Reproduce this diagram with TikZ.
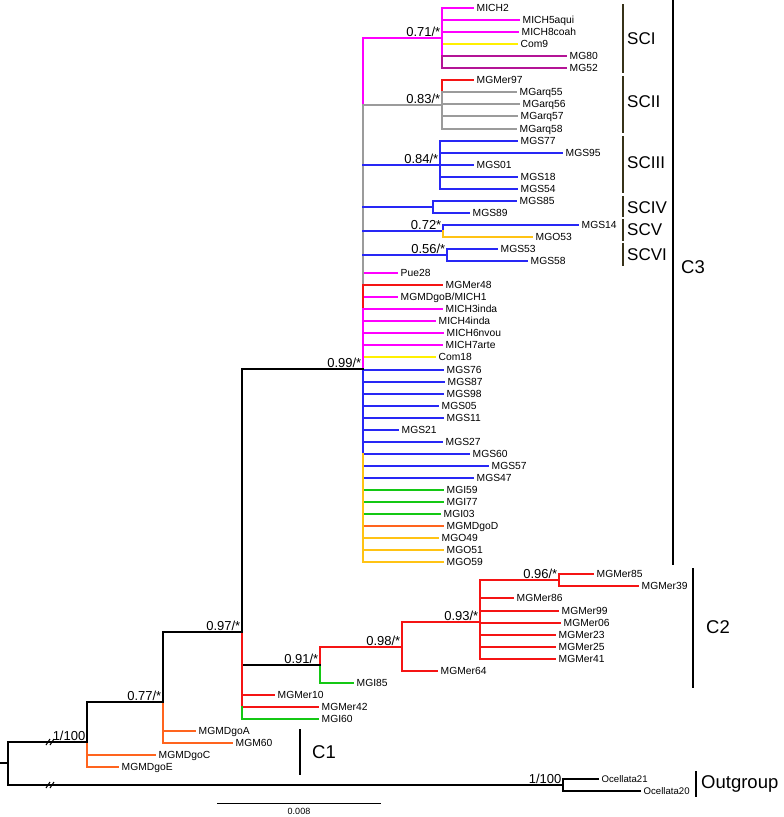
\documentclass[tikz,border=0pt]{standalone}
\usepackage{fontspec}
\setmainfont{Liberation Sans}
\usepackage{tikz}

\definecolor{tmag}{RGB}{255,0,255}
\definecolor{tpur}{RGB}{180,20,150}
\definecolor{tyel}{RGB}{255,240,0}
\definecolor{tgray}{RGB}{155,155,155}
\definecolor{tblue}{RGB}{40,40,245}
\definecolor{tred}{RGB}{245,20,20}
\definecolor{tgreen}{RGB}{20,200,20}
\definecolor{torange}{RGB}{255,100,30}
\definecolor{tgold}{RGB}{255,195,20}
\definecolor{tbar}{RGB}{55,50,25}

\tikzset{
  branch/.style={line width=2pt, line cap=rect},
  tiplab/.style={anchor=west, inner xsep=3.5pt, inner ysep=0pt, text height=7.5pt, text depth=0.5pt, font=\fontsize{10.3}{12}\selectfont},
  supp/.style={anchor=south east, inner sep=1.5pt, text depth=0pt, font=\fontsize{13}{15}\selectfont},
  cladebar/.style={line width=1.5pt},
  cladelab/.style={anchor=west, inner sep=0pt, font=\fontsize{17}{20}\selectfont},
}

% tip: name, row, x of tip, colour, parent, label
\newcommand\tip[6]{%
  \node[tiplab] (#1) at (#3,{round(8+12.05*(#2-1))}) {#6};
  \draw[branch,#4] (#5 |- #1.west) -- (#1.west);}

% axis break mark
\newcommand\brk[1]{%
  \draw[line width=1pt, shift={(#1)}] (-5,3) -- (-1,-3) (-1,3) -- (3,-3);}

\begin{document}
\begin{tikzpicture}[x=1pt,y=-1pt]
\useasboundingbox (0,0) rectangle (784,817);

% internal nodes
\coordinate (rootend) at (0,763);
\coordinate (root) at (8,763);
\coordinate (ing) at (87,742);
\coordinate (n77) at (163,702);
\coordinate (n97) at (242,632);
\coordinate (nC3) at (363,369);
\coordinate (nSCI) at (442,38);
\coordinate (nSCII) at (442,105);
\coordinate (nSCIII) at (440,165);
\coordinate (nSCIV) at (433,207);
\coordinate (nSCV) at (443,231);
\coordinate (nSCVI) at (447,255);
\coordinate (n91) at (320,665);
\coordinate (n98) at (402,647);
\coordinate (n93) at (480,622);
\coordinate (n96) at (559,580);
\coordinate (nOut) at (563,785);

% SCI
\tip{MICH2}{1}{473}{tmag}{nSCI}{MICH2}
\tip{MICH5aqui}{2}{519}{tmag}{nSCI}{MICH5aqui}
\tip{MICH8coah}{3}{518}{tmag}{nSCI}{MICH8coah}
\tip{Com9}{4}{517}{tyel}{nSCI}{Com9}
\tip{MG80}{5}{566}{tpur}{nSCI}{MG80}
\tip{MG52}{6}{566}{tpur}{nSCI}{MG52}
% SCII
\tip{MGMer97}{7}{473}{tred}{nSCII}{MGMer97}
\tip{MGarq55}{8}{516}{tgray}{nSCII}{MGarq55}
\tip{MGarq56}{9}{519}{tgray}{nSCII}{MGarq56}
\tip{MGarq57}{10}{517}{tgray}{nSCII}{MGarq57}
\tip{MGarq58}{11}{516}{tgray}{nSCII}{MGarq58}
% SCIII
\tip{MGS77}{12}{517}{tblue}{nSCIII}{MGS77}
\tip{MGS95}{13}{562}{tblue}{nSCIII}{MGS95}
\tip{MGS01}{14}{473}{tblue}{nSCIII}{MGS01}
\tip{MGS18}{15}{517}{tblue}{nSCIII}{MGS18}
\tip{MGS54}{16}{517}{tblue}{nSCIII}{MGS54}
% SCIV - SCVI
\tip{MGS85}{17}{516}{tblue}{nSCIV}{MGS85}
\tip{MGS89}{18}{469}{tblue}{nSCIV}{MGS89}
\tip{MGS14}{19}{578}{tblue}{nSCV}{MGS14}
\tip{MGO53}{20}{532}{tgold}{nSCV}{MGO53}
\tip{MGS53}{21}{497}{tblue}{nSCVI}{MGS53}
\tip{MGS58}{22}{527}{tblue}{nSCVI}{MGS58}
% rest of C3
\tip{Pue28}{23}{397}{tmag}{nC3}{Pue28}
\tip{MGMer48}{24}{442}{tred}{nC3}{MGMer48}
\tip{MGMDgoB}{25}{397}{tmag}{nC3}{MGMDgoB/MICH1}
\tip{MICH3inda}{26}{442}{tmag}{nC3}{MICH3inda}
\tip{MICH4inda}{27}{435}{tmag}{nC3}{MICH4inda}
\tip{MICH6nvou}{28}{443}{tmag}{nC3}{MICH6nvou}
\tip{MICH7arte}{29}{442}{tmag}{nC3}{MICH7arte}
\tip{Com18}{30}{435}{tyel}{nC3}{Com18}
\tip{MGS76}{31}{443}{tblue}{nC3}{MGS76}
\tip{MGS87}{32}{444}{tblue}{nC3}{MGS87}
\tip{MGS98}{33}{443}{tblue}{nC3}{MGS98}
\tip{MGS05}{34}{438}{tblue}{nC3}{MGS05}
\tip{MGS11}{35}{443}{tblue}{nC3}{MGS11}
\tip{MGS21}{36}{398}{tblue}{nC3}{MGS21}
\tip{MGS27}{37}{442}{tblue}{nC3}{MGS27}
\tip{MGS60}{38}{469}{tblue}{nC3}{MGS60}
\tip{MGS57}{39}{488}{tblue}{nC3}{MGS57}
\tip{MGS47}{40}{473}{tblue}{nC3}{MGS47}
\tip{MGI59}{41}{443}{tgreen}{nC3}{MGI59}
\tip{MGI77}{42}{443}{tgreen}{nC3}{MGI77}
\tip{MGI03}{43}{440}{tgreen}{nC3}{MGI03}
\tip{MGMDgoD}{44}{443}{torange}{nC3}{MGMDgoD}
\tip{MGO49}{45}{438}{tgold}{nC3}{MGO49}
\tip{MGO51}{46}{443}{tgold}{nC3}{MGO51}
\tip{MGO59}{47}{443}{tgold}{nC3}{MGO59}
% C2
\tip{MGMer85}{48}{593}{tred}{n96}{MGMer85}
\tip{MGMer39}{49}{638}{tred}{n96}{MGMer39}
\tip{MGMer86}{50}{513}{tred}{n93}{MGMer86}
\tip{MGMer99}{51}{558}{tred}{n93}{MGMer99}
\tip{MGMer06}{52}{560}{tred}{n93}{MGMer06}
\tip{MGMer23}{53}{555}{tred}{n93}{MGMer23}
\tip{MGMer25}{54}{555}{tred}{n93}{MGMer25}
\tip{MGMer41}{55}{555}{tred}{n93}{MGMer41}
\tip{MGMer64}{56}{437}{tred}{n98}{MGMer64}
\tip{MGI85}{57}{353}{tgreen}{n91}{MGI85}
\tip{MGMer10}{58}{274}{tred}{n97}{MGMer10}
\tip{MGMer42}{59}{318}{tred}{n97}{MGMer42}
\tip{MGI60}{60}{318}{tgreen}{n97}{MGI60}
% C1
\tip{MGMDgoA}{61}{195}{torange}{n77}{MGMDgoA}
\tip{MGM60}{62}{232}{torange}{n77}{MGM60}
\tip{MGMDgoC}{63}{155}{torange}{ing}{MGMDgoC}
\tip{MGMDgoE}{64}{118}{torange}{ing}{MGMDgoE}
% outgroup
\tikzset{tiplab/.append style={font=\fontsize{9.6}{11}\selectfont}}
\tip{Ocellata21}{65}{598}{black}{nOut}{Ocellata21}
\tip{Ocellata20}{66}{640}{black}{nOut}{Ocellata20}

% C3 polytomy
\draw[branch,tmag] (nC3 |- nSCI) -- (nC3 |- nSCII);
\draw[branch,tgray] (nC3 |- nSCII) -- (nC3 |- MGMer48.west);
\draw[branch,tred] (nC3 |- MGMer48.west) -- (nC3 |- MICH3inda.west);
\draw[branch,tmag] (nC3 |- MICH3inda.west) -- (nC3);
\draw[branch,tblue] (nC3) -- (nC3 |- MGS60.west);
\draw[branch,tgold] (nC3 |- MGS60.west) -- (nC3 |- MGO59.west);
\draw[branch,tmag] (nC3 |- nSCI) -- (nSCI);
\draw[branch,tgray] (nC3 |- nSCII) -- (nSCII);
\draw[branch,tblue] (nC3 |- nSCIII) -- (nSCIII);
\draw[branch,tblue] (nC3 |- nSCIV) -- (nSCIV);
\draw[branch,tblue] (nC3 |- nSCV) -- (nSCV);
\draw[branch,tblue] (nC3 |- nSCVI) -- (nSCVI);

% subclades
\draw[branch,tmag] (nSCI |- MICH2.west) -- (nSCI |- MG80.west);
\draw[branch,tpur] (nSCI |- MG80.west) -- (nSCI |- MG52.west);
\draw[branch,tred] (nSCII |- MGMer97.west) -- (nSCII |- MGarq55.west);
\draw[branch,tgray] (nSCII |- MGarq55.west) -- (nSCII |- MGarq58.west);
\draw[branch,tblue] (nSCIII |- MGS77.west) -- (nSCIII |- MGS54.west);
\draw[branch,tblue] (nSCIV |- MGS85.west) -- (nSCIV |- MGS89.west);
\draw[branch,tblue] (nSCV |- MGS14.west) -- (nSCV);
\draw[branch,tgold] (nSCV) -- (nSCV |- MGO53.west);
\draw[branch,tblue] (nSCVI |- MGS53.west) -- (nSCVI |- MGS58.west);

% C2
\draw[branch,tred] (n96 |- MGMer85.west) -- (n96 |- MGMer39.west);
\draw[branch,tred] (n93 |- n96) -- (n96);
\draw[branch,tred] (n93 |- n96) -- (n93 |- MGMer41.west);
\draw[branch,tred] (n98 |- n93) -- (n93);
\draw[branch,tred] (n98 |- n93) -- (n98 |- MGMer64.west);
\draw[branch,tred] (n91 |- n98) -- (n98);
\draw[branch,tred] (n91 |- n98) -- (n91);
\draw[branch,tgreen] (n91) -- (n91 |- MGI85.west);
\draw[branch] (n97 |- n91) -- (n91);

% backbone
\draw[branch] (n97 |- nC3) -- (nC3);
\draw[branch] (n97 |- nC3) -- (n97);
\draw[branch,tred] (n97) -- (n97 |- MGMer42.west);
\draw[branch,tgreen] (n97 |- MGMer42.west) -- (n97 |- MGI60.west);
\draw[branch] (n77 |- n97) -- (n97);
\draw[branch] (n77 |- n97) -- (n77);
\draw[branch,torange] (n77) -- (n77 |- MGM60.west);
\draw[branch] (ing |- n77) -- (n77);
\draw[branch] (ing |- n77) -- (ing);
\draw[branch,torange] (ing) -- (ing |- MGMDgoE.west);
\draw[branch] (root |- ing) -- (ing);
\draw[branch] (root |- ing) -- (root |- nOut);
\draw[branch] (rootend) -- (root);
\draw[branch] (root |- nOut) -- (nOut);
\draw[branch] (nOut |- Ocellata21.west) -- (nOut |- Ocellata20.west);

% long branches cut
\coordinate (brkA) at (51,742);
\coordinate (brkB) at (51,785);
\brk{brkA}
\brk{brkB}

% support values
\node[supp] (sSCI) at (nSCI) {0.71/*};
\node[supp] (sSCII) at (nSCII) {0.83/*};
\node[supp] (sSCIII) at (nSCIII) {0.84/*};
\node[supp] (sSCV) at (nSCV) {0.72*};
\node[supp] (sSCVI) at (nSCVI) {0.56/*};
\node[supp] (sC3) at (nC3) {0.99/*};
\node[supp] (s97) at (n97) {0.97/*};
\node[supp] (s91) at (n91) {0.91/*};
\node[supp] (s98) at (n98) {0.98/*};
\node[supp] (s93) at (n93) {0.93/*};
\node[supp] (s96) at (n96) {0.96/*};
\node[supp] (s77) at (n77) {0.77/*};
\node[supp] (sing) at (ing) {1/100};
\node[supp] (sOut) at (nOut) {1/100};

% clade bars
\draw[cladebar,tbar] (623,4) -- (623,73);
\draw[cladebar,tbar] (623,76) -- (623,133);
\draw[cladebar,tbar] (623,136) -- (623,193);
\draw[cladebar,tbar] (623,196) -- (623,217);
\draw[cladebar,tbar] (623,219) -- (623,241);
\draw[cladebar,tbar] (623,243) -- (623,266);
\node[cladelab] (SCI) at (627,39) {SCI};
\node[cladelab] (SCII) at (627,102) {SCII};
\node[cladelab] (SCIII) at (627,163) {SCIII};
\node[cladelab] (SCIV) at (627,208) {SCIV};
\node[cladelab] (SCV) at (627,230) {SCV};
\node[cladelab] (SCVI) at (627,255) {SCVI};

\draw[cladebar] (673,0) -- (673,565);
\draw[cladebar] (693,568) -- (693,688);
\draw[cladebar] (300,729) -- (300,775);
\draw[cladebar] (696,771) -- (696,797);
\node[cladelab, font=\fontsize{18.5}{20}\selectfont] (C3) at (681,267) {C3};
\node[cladelab, font=\fontsize{18.5}{20}\selectfont] (C2) at (706,627) {C2};
\node[cladelab, font=\fontsize{18.5}{20}\selectfont] (C1) at (312,752) {C1};
\node[cladelab, font=\fontsize{18.5}{20}\selectfont] (Outgroup) at (701,784) {Outgroup};

% scale
\draw[line width=0.8pt] (217,803) -- (381,803);
\node[font=\fontsize{9}{10}\selectfont] (scale) at (299,811) {0.008};
\end{tikzpicture}
\end{document}
